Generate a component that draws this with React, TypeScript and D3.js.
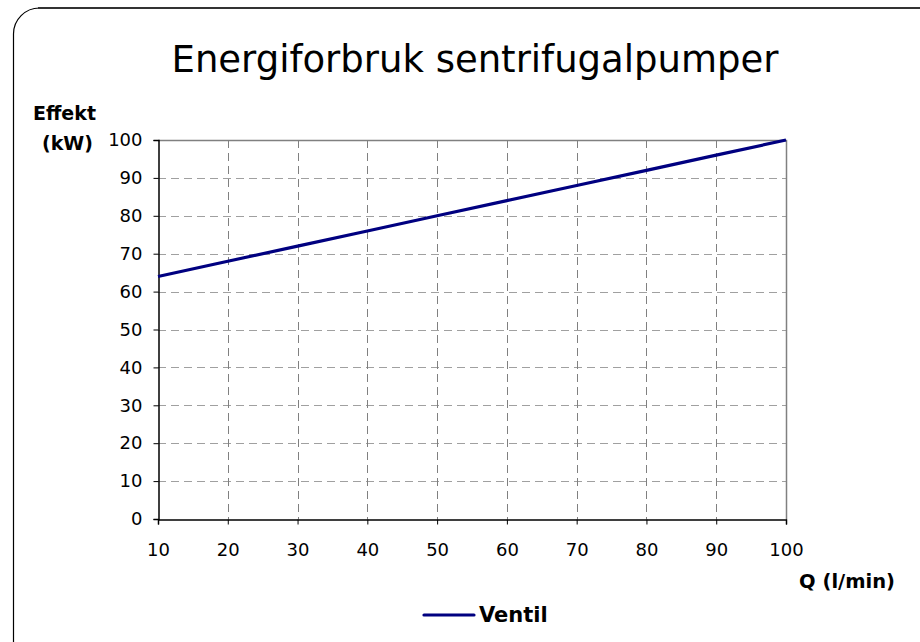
import React, { useEffect, useRef } from "react";
import * as d3 from "d3";

const flow = [10, 20, 30, 40, 50, 60, 70, 80, 90, 100];
const ventil = [64, 68, 72, 76, 80, 84, 88, 92, 96, 100];
const yTicks = [0, 10, 20, 30, 40, 50, 60, 70, 80, 90, 100];

const FONT = "'DejaVu Sans', Verdana, sans-serif";

const App = () => {
  const svgRef = useRef<SVGSVGElement | null>(null);

  useEffect(() => {
    const svg = d3.select(svgRef.current);
    svg.selectAll("*").remove();

    const W = 920;
    const plot = { left: 158, top: 140, right: 786, bottom: 519 };

    // outer frame, clipped at right/bottom like the original
    svg
      .append("rect")
      .attr("x", 13.5)
      .attr("y", 8)
      .attr("width", 940)
      .attr("height", 660)
      .attr("rx", 26)
      .attr("fill", "white")
      .attr("stroke", "#000")
      .attr("stroke-width", 1.2);
    svg
      .append("line")
      .attr("x1", 38)
      .attr("x2", W)
      .attr("y1", 8)
      .attr("y2", 8)
      .attr("stroke", "#333")
      .attr("stroke-width", 2);

    const x = d3.scaleLinear().domain([10, 100]).range([plot.left, plot.right]);
    const y = d3.scaleLinear().domain([0, 100]).range([plot.bottom, plot.top]);

    // title
    svg
      .append("text")
      .attr("x", 475)
      .attr("y", 72)
      .attr("text-anchor", "middle")
      .attr("font-family", FONT)
      .attr("font-size", 37)
      .text("Energiforbruk sentrifugalpumper");

    // grid
    const g = svg.append("g");
    g.selectAll(".hgrid")
      .data(yTicks.filter((d) => d > 0 && d < 100))
      .enter()
      .append("line")
      .attr("x1", plot.left)
      .attr("x2", plot.right)
      .attr("y1", (d) => Math.round(y(d)) + 0.5)
      .attr("y2", (d) => Math.round(y(d)) + 0.5)
      .attr("stroke", "#a0a0a0")
      .attr("stroke-dasharray", "8,5");
    g.selectAll(".vgrid")
      .data(flow.filter((d) => d > 10 && d < 100))
      .enter()
      .append("line")
      .attr("x1", (d) => Math.round(x(d)) + 0.5)
      .attr("x2", (d) => Math.round(x(d)) + 0.5)
      .attr("y1", plot.top)
      .attr("y2", plot.bottom)
      .attr("stroke", "#808080")
      .attr("stroke-dasharray", "8,5");

    // top and right plot border
    g.append("path")
      .attr(
        "d",
        `M${plot.left},${plot.top + 0.5}H${plot.right + 0.5}V${plot.bottom}`
      )
      .attr("fill", "none")
      .attr("stroke", "#808080")
      .attr("stroke-width", 1.5);

    // axes
    const yAxis = svg
      .append("g")
      .attr("transform", `translate(${plot.left + 0.5},0)`)
      .call(d3.axisLeft(y).tickValues(yTicks).tickSize(5).tickPadding(11));
    const xAxis = svg
      .append("g")
      .attr("transform", `translate(0,${plot.bottom + 0.5})`)
      .call(d3.axisBottom(x).tickValues(flow).tickSize(5).tickPadding(19));
    [yAxis, xAxis].forEach((a) => {
      a.attr("font-size", 18).attr("font-family", FONT);
      a.select(".domain").attr("stroke", "#000").attr("stroke-width", 1.5);
      a.selectAll("line").attr("stroke", "#000");
      a.selectAll("text").attr("fill", "#000");
    });

    // line
    svg
      .append("path")
      .datum(ventil)
      .attr("fill", "none")
      .attr("stroke", "#000080")
      .attr("stroke-width", 3.2)
      .attr(
        "d",
        d3
          .line<number>()
          .x((_, i) => x(flow[i]))
          .y((d) => y(d))
      );

    // axis titles
    const bold = (tx: number, ty: number, s: string, anchor = "start", size = 19) =>
      svg
        .append("text")
        .attr("x", tx)
        .attr("y", ty)
        .attr("text-anchor", anchor)
        .attr("font-family", FONT)
        .attr("font-weight", "bold")
        .attr("font-size", size)
        .text(s);
    bold(33, 120, "Effekt");
    bold(93, 150, "(kW)", "end");
    bold(895, 588, "Q (l/min)", "end", 19.5);

    // legend
    svg
      .append("line")
      .attr("x1", 424)
      .attr("x2", 474)
      .attr("y1", 615)
      .attr("y2", 615)
      .attr("stroke", "#000080")
      .attr("stroke-width", 3.2)
      .attr("stroke-linecap", "round");
    bold(479, 622, "Ventil", "start", 21);
  }, []);

  return (
    <svg
      ref={svgRef}
      width={920}
      height={642}
      style={{ position: "absolute", left: 0, top: 0 }}
    ></svg>
  );
};

export default App;
